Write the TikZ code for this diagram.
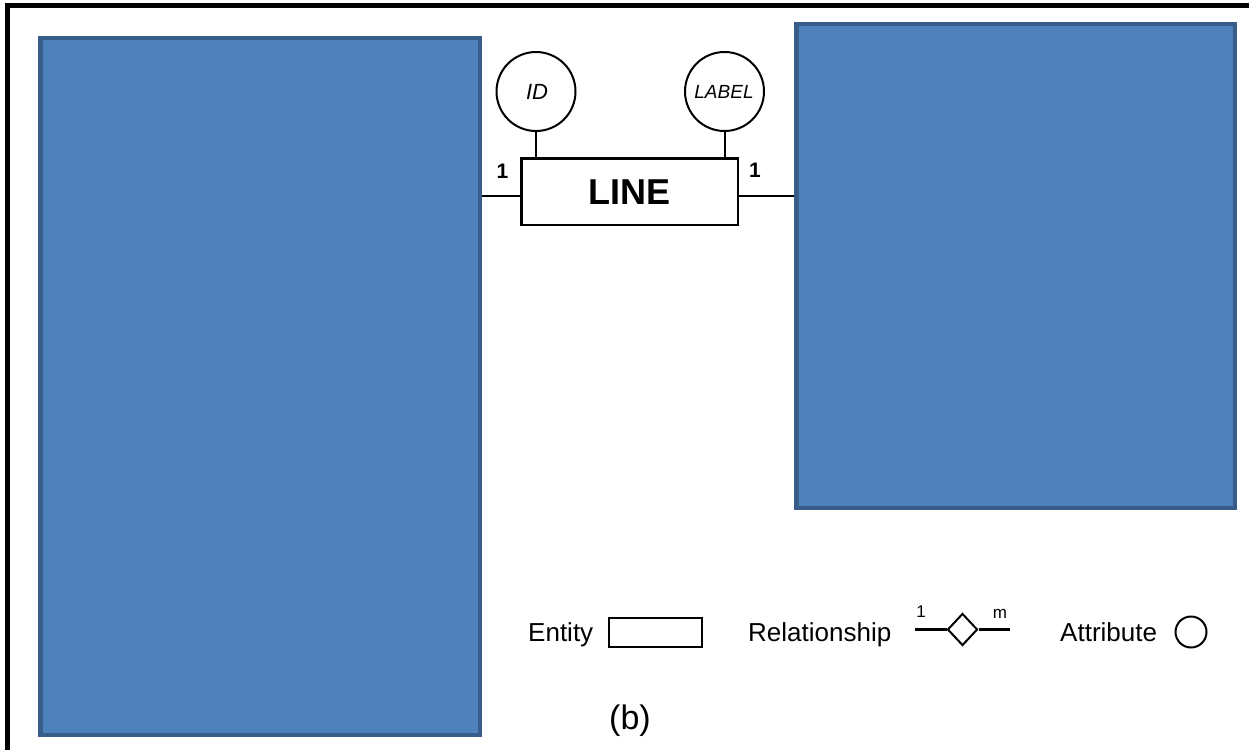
\documentclass[tikz,border=0pt]{standalone}
\usepackage{fontspec}
\setmainfont{Liberation Sans}
\usetikzlibrary{shapes.geometric}
\definecolor{bluefill}{HTML}{4F81BD}
\definecolor{blueedge}{HTML}{385D8A}
\begin{document}
\begin{tikzpicture}[x=1pt,y=-1pt,
  bluebox/.style={rectangle,draw=blueedge,fill=bluefill,line width=4.5pt,inner sep=0pt},
  entitybox/.style={rectangle,draw=black,line width=2.5pt,inner sep=0pt},
  attr/.style={circle,draw=black,line width=2pt,inner sep=0pt},
  conn/.style={draw=black,line width=2pt},
  txt/.style={inner sep=0pt,text=black}]
\useasboundingbox (0,0) rectangle (1249,749);
\clip (0,0) rectangle (1249,749);
\fill[white] (0,0) rectangle (1249,749);
\draw[line width=5pt] (7.5,5.5) rectangle (1270,770);
% blue boxes
\node[bluebox,minimum width=439.5pt,minimum height=696.5pt] (left) at (260,386.5) {};
\node[bluebox,minimum width=438.5pt,minimum height=483.5pt] (right) at (1015.5,266) {};
% entity LINE
\node[entitybox,minimum width=216.5pt,minimum height=66.5pt] (line) at (629.5,191.5) {};
\node[txt,font=\fontsize{36}{40}\selectfont\bfseries] (linetxt) at (629.5,192) {LINE};
% attributes
\node[attr,minimum size=79pt] (id) at (536,91.5) {};
\node[txt,font=\fontsize{22}{26}\selectfont\itshape] (idtxt) at (537,92) {ID};
\node[attr,minimum size=79pt] (lab) at (724.5,91.5) {};
\node[txt,font=\fontsize{19}{22}\selectfont\itshape] (labtxt) at (724,92) {LABEL};
\draw[conn] (id.south) -- (id.south |- line.north);
\draw[conn] (lab.south) -- (lab.south |- line.north);
% connectors
\draw[conn] (left.east |- 0,196) -- (line.west |- 0,196);
\draw[conn] (line.east |- 0,195.5) -- (right.west |- 0,195.5);
\node[txt,font=\fontsize{21}{24}\selectfont\bfseries] (one1) at (502.5,171) {1};
\node[txt,font=\fontsize{21}{24}\selectfont\bfseries] (one2) at (755,170) {1};
% legend
\node[txt,anchor=base west,font=\fontsize{26}{30}\selectfont] (enttxt) at (528,641) {Entity};
\node[rectangle,draw=black,line width=1.8pt,inner sep=0pt,minimum width=93pt,minimum height=29.5pt] (entsym) at (655.5,632.5) {};
\node[txt,anchor=base west,font=\fontsize{26}{30}\selectfont] (reltxt) at (748,641) {Relationship};
\node[diamond,draw=black,line width=2pt,inner sep=0pt,minimum width=30pt,minimum height=32pt] (dia) at (962.5,629.5) {};
\coordinate (rl) at (915,629.5);
\coordinate (rr) at (1010,629.5);
\draw[line width=3pt] (rl) -- (dia.west);
\draw[line width=3pt] (dia.east) -- (rr);
\node[txt,font=\fontsize{17}{20}\selectfont] (relone) at (921,612) {1};
\node[txt,font=\fontsize{17}{20}\selectfont] (relm) at (1000,614) {m};
\node[txt,anchor=base west,font=\fontsize{26}{30}\selectfont] (atttxt) at (1060,641) {Attribute};
\node[circle,draw=black,line width=2pt,inner sep=0pt,minimum size=31pt] (attsym) at (1191,632) {};
\node[txt,font=\fontsize{34}{38}\selectfont] (b) at (630,721) {(b)};
\end{tikzpicture}
\end{document}
